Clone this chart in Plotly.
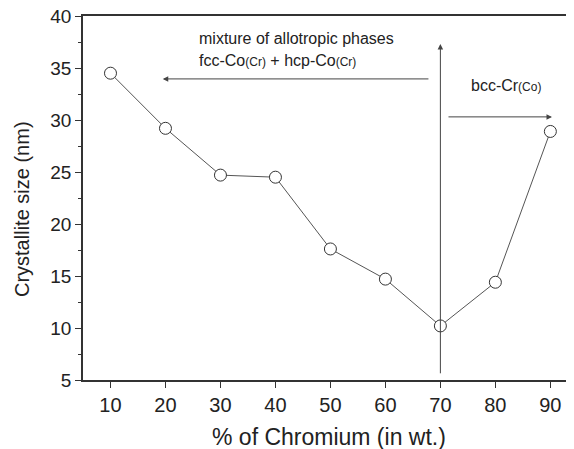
import plotly.graph_objects as go

chromium_pct = [10, 20, 30, 40, 50, 60, 70, 80, 90]
crystallite_nm = [34.5, 29.2, 24.7, 24.5, 17.6, 14.7, 10.2, 14.4, 28.9]
x_ticks = [10, 20, 30, 40, 50, 60, 70, 80, 90]
y_ticks = [5, 10, 15, 20, 25, 30, 35, 40]

FONT = "Liberation Sans, Arial, sans-serif"
AX = "#333333"

fig = go.Figure()
fig.add_trace(go.Scatter(
    x=chromium_pct, y=crystallite_nm, mode="lines+markers",
    line=dict(color="#555555", width=1),
    marker=dict(symbol="circle", size=12, color="white",
                line=dict(color="#333333", width=1)),
    showlegend=False, cliponaxis=False,
))

arrow = dict(xref="x", yref="y", axref="x", ayref="y", showarrow=True,
             arrowhead=2, arrowsize=1.1, arrowwidth=1, arrowcolor="#444444", text="")
annos = [
    dict(x=70, y=37.3, ax=70, ay=5.5, **arrow),
    dict(x=19.5, y=33.95, ax=68.1, ay=33.95, **arrow),
    dict(x=90.3, y=30.3, ax=71.2, ay=30.3, **arrow),
    dict(x=25.7, y=37.8, xref="x", yref="y", xanchor="left", yanchor="middle",
         showarrow=False, align="left",
         text="mixture of allotropic phases",
         font=dict(family=FONT, size=16, color="#222222")),
    dict(x=25.7, y=35.7, xref="x", yref="y", xanchor="left", yanchor="middle",
         showarrow=False, align="left",
         text="fcc-Co<span style='font-size:12px'>(Cr)</span> + hcp-Co<span style='font-size:12px'>(Cr)</span>",
         font=dict(family=FONT, size=16, color="#222222")),
    dict(x=75.2, y=33.3, xref="x", yref="y", xanchor="left", yanchor="middle",
         showarrow=False, align="left",
         text="bcc-Cr<span style='font-size:12px'>(Co)</span>",
         font=dict(family=FONT, size=16, color="#222222")),
    dict(x=0.5, y=-0.156, xref="paper", yref="paper", xanchor="center", yanchor="middle",
         showarrow=False, text="% of Chromium (in wt.)",
         font=dict(family=FONT, size=23, color="#222222")),
    dict(x=-0.124, y=0.47, xref="paper", yref="paper", xanchor="center", yanchor="middle",
         showarrow=False, text="Crystallite size (nm)", textangle=-90,
         font=dict(family=FONT, size=20, color="#222222")),
]

fig.update_layout(
    width=574, height=449,
    margin=dict(l=75, r=8, t=8, b=77),
    paper_bgcolor="white", plot_bgcolor="white",
    font=dict(family=FONT, color="#222222"),
    annotations=annos,
    xaxis=dict(range=[5, 94.3], tickvals=x_ticks, showgrid=False, zeroline=False,
               showline=True, linecolor=AX, linewidth=1.5, mirror=True, automargin=False,
               ticks="outside", ticklen=6, tickwidth=1.2, tickcolor=AX,
               ticklabeloverflow="allow",
               tickfont=dict(size=20, family=FONT)),
    yaxis=dict(range=[5, 40], tickvals=y_ticks, showgrid=False, zeroline=False,
               showline=True, linecolor=AX, linewidth=1.5, automargin=False,
               ticks="outside", ticklen=6, tickwidth=1.2, tickcolor=AX,
               ticklabeloverflow="allow",
               minor=dict(dtick=2.5, ticks="outside", ticklen=3, tickcolor=AX, showgrid=False),
               tickfont=dict(size=19, family=FONT)),
)

fig.write_html("out.html")
